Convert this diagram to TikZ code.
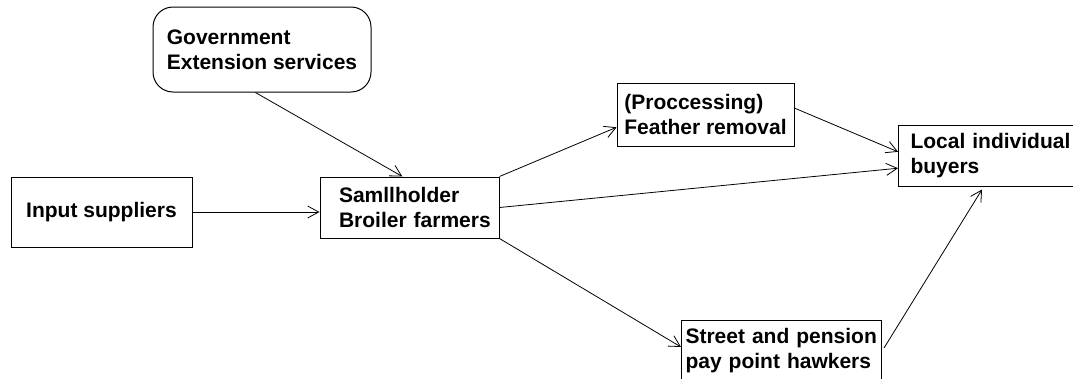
\documentclass[tikz,border=0pt]{standalone}
\usepackage{fontspec}
\setmainfont{Liberation Sans}
\usetikzlibrary{arrows.meta,calc}
\begin{document}
\begin{tikzpicture}[x=1pt,y=-1pt,
  box/.style={draw, line width=1pt, align=left, font=\bfseries\fontsize{21}{25}\selectfont, inner sep=0pt},
  arr/.style={-{Straight Barb[length=11pt,width=12pt]}, line width=0.8pt}]
\useasboundingbox (0,0) rectangle (1073,378);
\clip (0,0) rectangle (1073,378);
\node[box, rounded corners=20pt, minimum width=218pt, minimum height=85pt] (gov) at (262,49.5) {Government\\Extension services};
\node[box, minimum width=181pt, minimum height=70pt] (input) at (101.5,212) {Input suppliers};
\node[box, text width=141pt, inner xsep=19pt, minimum height=61pt] (small) at (409.5,207.5) {\mbox{Samllholder}\\\mbox{Broiler farmers}};
\node[box, minimum width=177pt, minimum height=63pt] (proc) at (705.5,114.5) {(Proccessing)\\Feather removal};
\node[box, text width=176pt, inner xsep=12pt, minimum height=61pt, anchor=west] (local) at (898,155.5) {Local individual\\buyers};
\node[box, text width=192pt, inner xsep=4pt, inner ysep=8pt, text depth=50pt, anchor=north west] (street) at (681,320) {Street and pension\\pay point hawkers};
\draw[arr] ($(gov.south west)!0.47!(gov.south east)$) -- ($(small.north west)!0.46!(small.north east)$);
\draw[arr] (input.east) -- (input.east -| small.west);
\draw[arr] (small.north east) -- ($(proc.south west)!0.3!(proc.north west)$);
\draw[arr] (small.east) -- ($(local.north west)!0.705!(local.south west)$);
\draw[arr] ($(proc.north east)!0.4!(proc.south east)$) -- ($(local.north west)!0.44!(local.south west)$);
\draw[arr] (small.south east) -- ($(street.north west)+(0,27)$);
\draw[arr] ($(street.north east)+(2,28)$) -- ($(local.south west)+(84,3)$);
\end{tikzpicture}
\end{document}
